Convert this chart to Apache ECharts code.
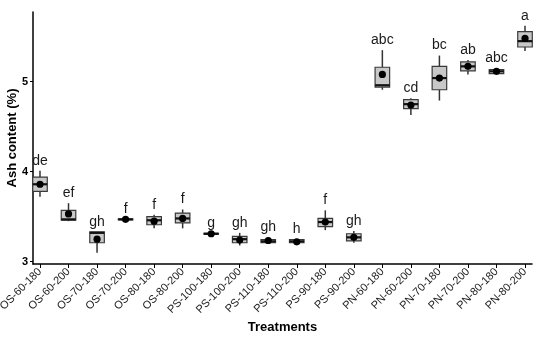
<!DOCTYPE html>
<html><head><meta charset="utf-8">
<script src="https://cdn.jsdelivr.net/npm/echarts@6/dist/echarts.min.js"></script>
<style>html,body{margin:0;padding:0;background:#fff}#c{width:550px;height:340px}</style>
</head><body><div id="c"></div>
<script>
const categories = ['OS-60-180','OS-60-200','OS-70-180','OS-70-200','OS-80-180','OS-80-200',
  'PS-100-180','PS-100-200','PS-110-180','PS-110-200','PS-90-180','PS-90-200',
  'PN-60-180','PN-60-200','PN-70-180','PN-70-200','PN-80-180','PN-80-200'];
const whiskerLow  = [3.72,3.45,3.10,3.465,3.37,3.37,3.305,3.18,3.21,3.205,3.35,3.21,4.91,4.63,4.79,5.08,5.08,5.34];
const q1          = [3.78,3.46,3.21,3.465,3.41,3.43,3.305,3.21,3.21,3.21,3.39,3.23,4.94,4.70,4.91,5.12,5.09,5.385];
const median      = [3.86,3.47,3.32,3.47,3.46,3.48,3.31,3.25,3.225,3.225,3.44,3.27,4.96,4.75,5.04,5.17,5.115,5.45];
const q3          = [3.94,3.57,3.33,3.475,3.50,3.54,3.315,3.28,3.245,3.245,3.48,3.31,5.16,4.80,5.17,5.22,5.135,5.555];
const whiskerHigh = [4.01,3.65,3.33,3.475,3.52,3.58,3.315,3.32,3.27,3.25,3.57,3.34,5.35,4.815,5.29,5.24,5.145,5.62];
const mean        = [3.86,3.53,3.25,3.47,3.45,3.48,3.31,3.24,3.235,3.22,3.44,3.27,5.08,4.74,5.04,5.17,5.115,5.48];
const letters     = ['de','ef','gh','f','f','f','g','gh','gh','h','f','gh','abc','cd','bc','ab','abc','a'];
const yTicks = [3,4,5];
const xTicks = categories.map((c,i)=>i);

const chart = echarts.init(document.getElementById('c'), null, {renderer:'canvas'});
const data = categories.map((c,i)=>[i, whiskerLow[i], q1[i], median[i], q3[i], whiskerHigh[i], mean[i]]);

function renderItem(params, api){
  const x = api.value(0);
  const pLo = api.coord([x, api.value(1)]);
  const pQ1 = api.coord([x, api.value(2)]);
  const pMed = api.coord([x, api.value(3)]);
  const pQ3 = api.coord([x, api.value(4)]);
  const pHi = api.coord([x, api.value(5)]);
  const pMean = api.coord([x, api.value(6)]);
  const hw = api.size([1,0])[0]*0.255;
  const cx = pMed[0];
  const h = Math.max(pQ1[1]-pQ3[1], 0.5);
  return {type:'group', children:[
    {type:'line', shape:{x1:cx,y1:pHi[1],x2:cx,y2:pQ3[1]}, style:{stroke:'#333',lineWidth:1.5}},
    {type:'line', shape:{x1:cx,y1:pQ1[1],x2:cx,y2:pLo[1]}, style:{stroke:'#333',lineWidth:1.5}},
    {type:'rect', shape:{x:cx-hw,y:pQ3[1],width:hw*2,height:h}, style:{fill:'#c8c8c8',stroke:'#3a3a3a',lineWidth:1.2}},
    {type:'line', shape:{x1:cx-hw,y1:pMed[1],x2:cx+hw,y2:pMed[1]}, style:{stroke:'#111',lineWidth:2.2}},
    {type:'circle', shape:{cx:pMean[0],cy:pMean[1],r:3.6}, style:{fill:'#000'}},
    {type:'text', style:{text:letters[params.dataIndex], x:cx, y:pHi[1]-3, align:'center', verticalAlign:'bottom',
      fontSize:14, fontFamily:'Liberation Sans', fill:'#1a1a1a'}}
  ]};
}

chart.setOption({
  animation:false,
  grid:{left:33, right:18, top:12, bottom:76, containLabel:false, outerBoundsMode:'none'},
  xAxis:{type:'value', min:-0.245, max:17.245, splitLine:{show:false},
    axisLine:{show:true, onZero:false, lineStyle:{color:'#000', width:1.5}},
    axisTick:{show:true, customValues:xTicks, length:4, lineStyle:{color:'#000', width:1}},
    axisLabel:{customValues:xTicks, rotate:45, formatter:v=>categories[Math.round(v)], fontSize:11,
      color:'#222', margin:6, fontFamily:'Liberation Sans'},
    name:'Treatments', nameLocation:'middle', nameGap:57, nameMoveOverlap:false,
    nameTextStyle:{fontWeight:'bold', fontSize:13, color:'#000', fontFamily:'Liberation Sans'}},
  yAxis:{type:'value', min:2.974, max:5.774, splitLine:{show:false},
    axisLine:{show:true, onZero:false, lineStyle:{color:'#000', width:1.5}},
    axisTick:{show:true, customValues:yTicks, length:3, lineStyle:{color:'#000', width:1}},
    axisLabel:{customValues:yTicks, formatter:v=>String(v), fontSize:11, fontWeight:'bold', color:'#000',
      margin:5, fontFamily:'Liberation Sans'},
    name:'Ash content (%)', nameLocation:'middle', nameGap:14, nameMoveOverlap:false,
    nameTextStyle:{fontWeight:'bold', fontSize:13, color:'#000', fontFamily:'Liberation Sans'}},
  series:[{type:'custom', renderItem, data, clip:false, encode:{x:0, y:[1,5]}}]
});
</script></body></html>
